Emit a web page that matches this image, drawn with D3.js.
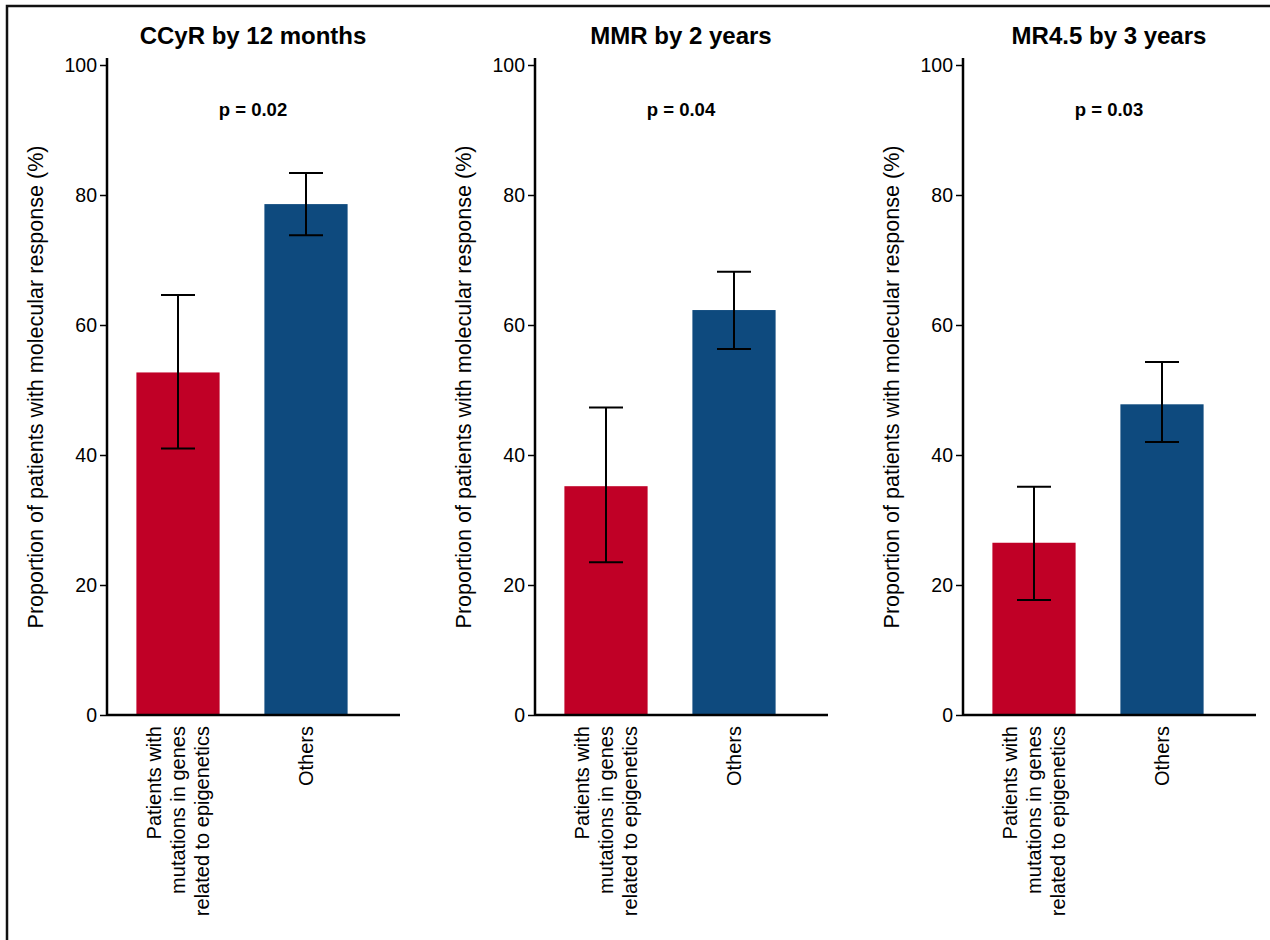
<!DOCTYPE html>
<html>
<head>
<meta charset="utf-8">
<script src="https://cdn.jsdelivr.net/npm/d3@7"></script>
<style>
  body { margin: 0; background: #fff; }
  text { font-family: "Liberation Sans", Arial, Helvetica, sans-serif; }
</style>
</head>
<body>
<div id="chart"></div>
<script>
var titles = ["CCyR by 12 months", "MMR by 2 years", "MR4.5 by 3 years"];
var pValues = ["p = 0.02", "p = 0.04", "p = 0.03"];
var categories = ["epi", "others"];
var categoryLabels = [["Patients with", "mutations in genes", "related to epigenetics"], ["Others"]];
var epiValues = [52.7, 35.2, 26.5];
var epiLow = [41.0, 23.5, 17.7];
var epiHigh = [64.6, 47.3, 35.1];
var otherValues = [78.6, 62.3, 47.8];
var otherLow = [73.8, 56.3, 42.0];
var otherHigh = [83.4, 68.2, 54.3];
var yTicks = [0, 20, 40, 60, 80, 100];
var colors = ["#C00026", "#0E4A7E"];

var W = 1270, H = 940;
var svg = d3.select("#chart").append("svg")
	.attr("width", W)
	.attr("height", H);

// outer frame (top and left only)
svg.append("path")
	.attr("d", "M7,940 V6 H1270")
	.attr("fill", "none")
	.attr("stroke", "#111")
	.attr("stroke-width", 2.5);

var y = d3.scaleLinear().domain([0, 100]).range([715, 65]);

titles.forEach(function(title, i) {
	var x0 = 107 + i * 428;
	var g = svg.append("g");

	var x = d3.scaleBand()
		.domain(categories)
		.range([x0 + 7, x0 + 263])
		.paddingInner(0.35)
		.paddingOuter(0.175);

	var data = [
		{cat: "epi", v: epiValues[i], lo: epiLow[i], hi: epiHigh[i]},
		{cat: "others", v: otherValues[i], lo: otherLow[i], hi: otherHigh[i]}
	];

	g.selectAll("rect.bar")
		.data(data)
		.enter().append("rect")
		.attr("class", "bar")
		.attr("x", function(d) { return x(d.cat); })
		.attr("width", x.bandwidth())
		.attr("y", function(d) { return y(d.v); })
		.attr("height", function(d) { return y(0) - y(d.v); })
		.attr("fill", function(d, j) { return colors[j]; });

	// error bars
	var cap = 17;
	data.forEach(function(d) {
		var cx = x(d.cat) + x.bandwidth() / 2;
		var eb = g.append("g").attr("stroke", "#000").attr("stroke-width", 2);
		eb.append("line").attr("x1", cx).attr("x2", cx).attr("y1", y(d.lo)).attr("y2", y(d.hi));
		eb.append("line").attr("x1", cx - cap).attr("x2", cx + cap).attr("y1", y(d.lo)).attr("y2", y(d.lo));
		eb.append("line").attr("x1", cx - cap).attr("x2", cx + cap).attr("y1", y(d.hi)).attr("y2", y(d.hi));
	});

	// y axis
	var yAxis = g.append("g")
		.attr("transform", "translate(" + x0 + ",0)")
		.call(d3.axisLeft(y).tickValues(yTicks).tickSize(7).tickPadding(3).tickSizeOuter(0));
	yAxis.select(".domain").attr("d", "M0,58V" + y(0)).attr("stroke-width", 2.5).attr("stroke", "#000");
	yAxis.selectAll(".tick line").attr("stroke-width", 1.5).attr("stroke", "#000");
	yAxis.selectAll(".tick text")
		.attr("font-size", 19.5)
		.attr("fill", "#000");

	// x axis line
	g.append("line")
		.attr("x1", x0)
		.attr("x2", x0 + 293)
		.attr("y1", y(0))
		.attr("y2", y(0))
		.attr("stroke", "#000")
		.attr("stroke-width", 2.5);

	// category labels (rotated)
	categories.forEach(function(c, j) {
		var lines = categoryLabels[j];
		var cx = x(c) + x.bandwidth() / 2;
		var t = g.append("text")
			.attr("transform", "translate(" + cx + "," + (y(0) + 11) + ") rotate(-90)")
			.attr("text-anchor", "end")
			.attr("font-size", 20)
			.attr("fill", "#000");
		lines.forEach(function(l, k) {
			t.append("tspan")
				.attr("x", 0)
				.attr("y", (k - (lines.length - 1) / 2) * 24 + 7)
				.text(l);
		});
	});

	// y axis label (condensed)
	g.append("text")
		.attr("transform", "translate(" + (x0 - 64) + ",387) rotate(-90)")
		.attr("text-anchor", "middle")
		.attr("font-size", 22.5)
		.attr("textLength", 483)
		.attr("lengthAdjust", "spacingAndGlyphs")
		.attr("fill", "#000")
		.text("Proportion of patients with molecular response (%)");

	// title
	g.append("text")
		.attr("x", x0 + 146)
		.attr("y", 44)
		.attr("text-anchor", "middle")
		.attr("font-size", 24)
		.attr("font-weight", "bold")
		.attr("fill", "#000")
		.text(title);

	// p value
	g.append("text")
		.attr("x", x0 + 146)
		.attr("y", 116)
		.attr("text-anchor", "middle")
		.attr("font-size", 18.5)
		.attr("font-weight", "bold")
		.attr("fill", "#000")
		.text(pValues[i]);
});
</script>
</body>
</html>
